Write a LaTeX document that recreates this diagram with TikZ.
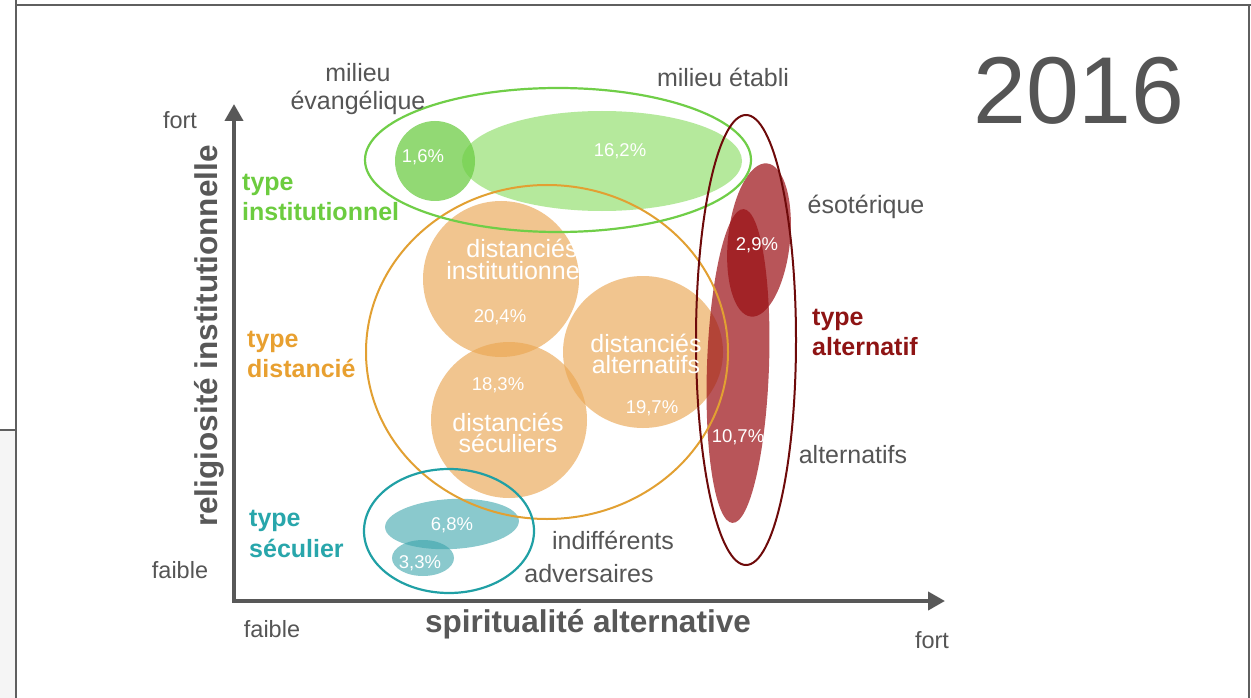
\documentclass[tikz,border=0pt]{standalone}
\usepackage{fontspec}
\setmainfont{Liberation Sans}
\usetikzlibrary{arrows.meta}
\definecolor{txtgray}{RGB}{85,85,85}
\definecolor{axisgray}{RGB}{88,88,88}
\definecolor{framegray}{RGB}{95,95,95}
\definecolor{paneg}{RGB}{245,245,245}
\definecolor{grnline}{RGB}{112,206,72}
\definecolor{grnlab}{RGB}{108,204,63}
\definecolor{grnA}{RGB}{110,205,70}
\definecolor{grnB}{RGB}{150,225,115}
\definecolor{orgline}{RGB}{226,160,50}
\definecolor{orglab}{RGB}{232,160,48}
\definecolor{orgfill}{RGB}{235,167,83}
\definecolor{tealline}{RGB}{32,160,165}
\definecolor{teallab}{RGB}{40,166,171}
\definecolor{tealfill}{RGB}{60,165,172}
\definecolor{redline}{RGB}{110,10,10}
\definecolor{redlab}{RGB}{142,20,20}
\definecolor{redfill}{RGB}{154,14,19}
\begin{document}
\begin{tikzpicture}[x=1pt,y=-1pt,
  graylab/.style={text=txtgray, font=\fontsize{25}{30}\selectfont, inner sep=0pt, anchor=base},
  smallgray/.style={text=txtgray, font=\fontsize{23.5}{28}\selectfont, inner sep=0pt, anchor=base},
  boldlab/.style={font=\bfseries\fontsize{25}{30}\selectfont, inner sep=0pt, anchor=base west},
  pct/.style={text=white, font=\fontsize{18.5}{22}\selectfont, inner sep=0pt, anchor=base},
  wlab/.style={text=white, font=\fontsize{25}{30}\selectfont, inner sep=0pt, anchor=base},
  axistitle/.style={text=axisgray, font=\bfseries\fontsize{31.5}{36}\selectfont, inner sep=0pt, anchor=base},
  axisline/.style={draw=axisgray, line width=4pt, line join=miter,
    {Triangle[length=17pt,width=18pt]}-{Triangle[length=17pt,width=18pt]}},
  framel/.style={draw=framegray, line width=2pt},
  grpline/.style={line width=2.2pt}
]
\useasboundingbox (0,0) rectangle (1251,698);
\fill[white] (0,0) rectangle (1251,698);
% side panel and frame
\fill[paneg] (0,430) rectangle (16,698);
\draw[draw=framegray, line width=1.5pt] (0,430) -- (16,430);
\draw[framel] (16,0) -- (16,698);
\draw[framel] (16,5) -- (1251,5);
\draw[framel] (1249,5) -- (1249,698);

% ---- filled shapes ----
% green
\fill[grnB, fill opacity=0.7] (602,161) ellipse [x radius=140pt, y radius=50pt];
\fill[grnA, fill opacity=0.75] (435,161) circle [radius=40pt];
% orange
\fill[orgfill, fill opacity=0.65] (501,279) circle [radius=78pt];
\fill[orgfill, fill opacity=0.65] (509,420) circle [radius=78pt];
\fill[orgfill, fill opacity=0.65] (643,352) ellipse [x radius=80pt, y radius=76pt];
% teal
\fill[tealfill, fill opacity=0.6, rotate around={3:(452,524)}] (452,524) ellipse [x radius=67pt, y radius=25pt];
\fill[tealfill, fill opacity=0.6] (423,558) ellipse [x radius=31pt, y radius=18pt];
% red
\fill[redfill, fill opacity=0.7, rotate around={-6:(759,240)}] (759,240) ellipse [x radius=31pt, y radius=77pt];
\fill[redfill, fill opacity=0.7, rotate around={-2:(738,366)}] (738,366) ellipse [x radius=31pt, y radius=157pt];

% ---- group outlines ----
\draw[orgline, grpline, line width=2pt] (547,352) ellipse [x radius=181pt, y radius=167pt];
\draw[grnline, grpline] (558,160) ellipse [x radius=193pt, y radius=72pt];
\draw[tealline, grpline] (449,531) ellipse [x radius=85pt, y radius=62pt];
\draw[redline, grpline, line width=2pt] (746,340) ellipse [x radius=50pt, y radius=225pt];

% ---- axes ----
\coordinate (ytip) at (234,104);
\coordinate (corner) at (234,601);
\coordinate (xtip) at (945,601);
\draw[axisline] (ytip) -- (corner) -- (xtip);

% ---- axis titles & ends ----
\node[axistitle, rotate=90] (ytitle) at (217,336) {religiosité institutionnelle};
\node[axistitle, anchor=base west] (xtitle) at (425,632) {spiritualité alternative};
\node[smallgray] (yfort) at (180,129) {fort};
\node[smallgray] (yfaible) at (180,578) {faible};
\node[smallgray] (xfaible) at (272,637) {faible};
\node[smallgray] (xfort) at (932,648) {fort};

% ---- type labels ----
\node[boldlab, text=grnlab] (tinst1) at (242,190) {type};
\node[boldlab, text=grnlab] (tinst2) at (242,220) {institutionnel};
\node[boldlab, text=orglab] (tdist1) at (247,347) {type};
\node[boldlab, text=orglab] (tdist2) at (247,377) {distancié};
\node[boldlab, text=teallab] (tsec1) at (249,526) {type};
\node[boldlab, text=teallab] (tsec2) at (249,557) {séculier};
\node[boldlab, text=redlab] (talt1) at (812,325) {type};
\node[boldlab, text=redlab] (talt2) at (812,355) {alternatif};

% ---- milieu labels ----
\node[graylab] (mev1) at (358,82) {milieu};
\node[graylab] (mev2) at (358,110) {évangélique};
\node[graylab] (met) at (723,87) {milieu établi};
\node[graylab] (eso) at (866,213) {ésotérique};
\node[graylab] (alts) at (853,463) {alternatifs};
\node[graylab] (indif) at (613,549) {indifférents};
\node[graylab] (adv) at (589,582) {adversaires};

% ---- white labels ----
\node[wlab] (di1) at (522,257) {distanciés};
\node[wlab] (di2) at (522,279) {institutionnels};
\node[wlab] (da1) at (646,352) {distanciés};
\node[wlab] (da2) at (646,373) {alternatifs};
\node[wlab] (ds1) at (508,431) {distanciés};
\node[wlab] (ds2) at (508,452) {séculiers};

% ---- percentages ----
\node[pct] (p16) at (423,163) {1,6\%};
\node[pct] (p162) at (620,157) {16,2\%};
\node[pct] (p29) at (757,250) {2,9\%};
\node[pct] (p204) at (500,322) {20,4\%};
\node[pct] (p183) at (498,390) {18,3\%};
\node[pct] (p197) at (652,413) {19,7\%};
\node[pct] (p107) at (738,442) {10,7\%};
\node[pct] (p68) at (452,530) {6,8\%};
\node[pct] (p33) at (420,568) {3,3\%};

% ---- year ----
\node[text=txtgray, font=\fontsize{95}{100}\selectfont, inner sep=0pt, anchor=base] (year) at (1079,124) {2016};
\end{tikzpicture}
\end{document}
